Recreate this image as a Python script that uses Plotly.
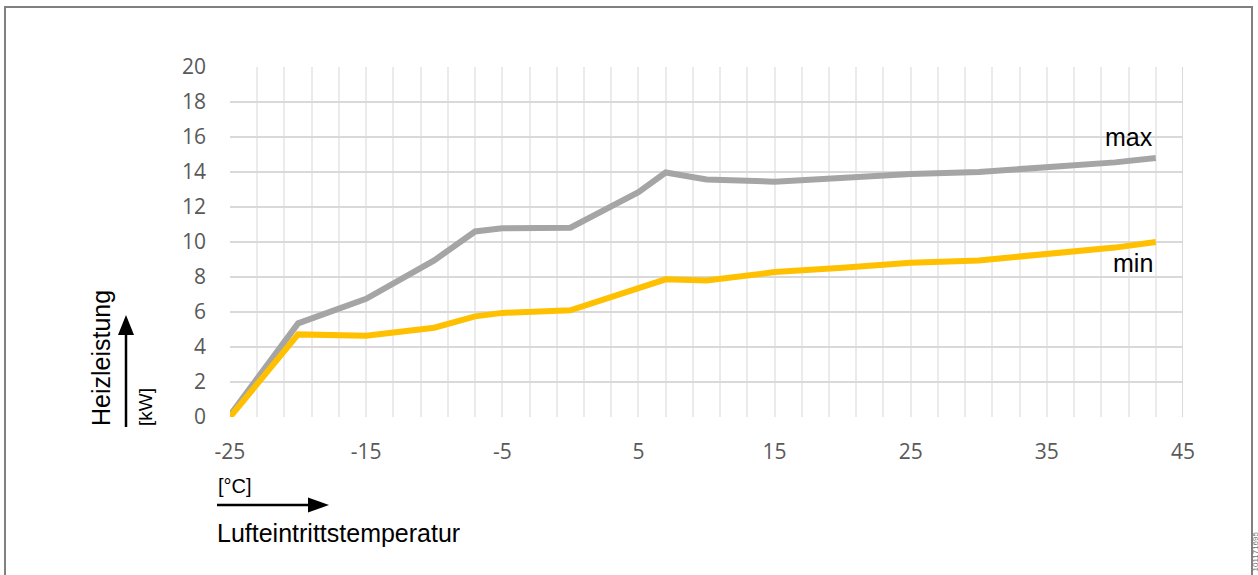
import plotly.graph_objects as go

# ---- data ----
temps = [-25, -20, -15, -10, -7, -5, 0, 5, 7, 10, 15, 20, 25, 30, 35, 40, 43]
p_max = [0.1, 5.35, 6.75, 8.95, 10.6, 10.78, 10.82, 12.85, 13.97, 13.57, 13.45, 13.68, 13.88, 14.0, 14.25, 14.55, 14.8]
p_min = [0.0, 4.72, 4.65, 5.1, 5.75, 5.95, 6.1, 7.3, 7.87, 7.8, 8.28, 8.53, 8.82, 8.95, 9.28, 9.68, 10.0]
x_ticks = [-25, -15, -5, 5, 15, 25, 35, 45]
y_ticks = [0, 2, 4, 6, 8, 10, 12, 14, 16, 18, 20]

W, H = 1258, 575
# plot area in page pixels
L, R, T, B = 230, 1183, 67, 417


def px(x):
    return (x - L) / (R - L)


def py(y):
    return (B - y) / (B - T)


FONT = "Liberation Sans, Arial"
TICKFONT = dict(family="Open Sans", size=21, color="#595959")

fig = go.Figure()
fig.add_trace(go.Scatter(x=temps, y=p_max, mode="lines", name="max",
                         line=dict(color="#A5A5A5", width=6), showlegend=False))
fig.add_trace(go.Scatter(x=temps, y=p_min, mode="lines", name="min",
                         line=dict(color="#FFC000", width=6), showlegend=False))

fig.update_layout(
    width=W, height=H,
    margin=dict(l=L, r=W - R, t=T, b=H - B, pad=0),
    paper_bgcolor="white", plot_bgcolor="white",
    font=dict(family=FONT, color="black"),
    xaxis=dict(range=[-25, 45], tickvals=x_ticks, ticktext=[str(v) for v in x_ticks],
               showgrid=True, gridcolor="#EBEBEB", gridwidth=1.5, zeroline=False,
               showline=False, ticks="", ticklabelstandoff=20, tickfont=TICKFONT,
               minor=dict(tick0=-25, dtick=2, showgrid=True, gridcolor="#EBEBEB", gridwidth=1.5)),
    yaxis=dict(range=[0, 20], tickvals=y_ticks, ticktext=[str(v) for v in y_ticks],
               showgrid=True, gridcolor="#D9D9D9", gridwidth=2, zeroline=False,
               showline=False, ticks="", ticklabelstandoff=23, tickfont=TICKFONT),
)

# right border line of the plot area (at 45)
fig.add_shape(type="line", xref="x", yref="y", x0=45, x1=45, y0=0, y1=20,
              line=dict(color="#D9D9D9", width=2), layer="below")

# series labels
fig.add_annotation(x=px(1155), y=py(137), xref="paper", yref="paper", text="max",
                   showarrow=False, xanchor="right", yanchor="middle",
                   font=dict(size=25, family=FONT, color="black"))
fig.add_annotation(x=px(1155), y=py(263), xref="paper", yref="paper", text="min",
                   showarrow=False, xanchor="right", yanchor="middle",
                   font=dict(size=25, family=FONT, color="black"))

# y axis title + unit + arrow
fig.add_annotation(x=px(101), y=py(428), xref="paper", yref="paper", text="Heizleistung",
                   showarrow=False, textangle=-90, xanchor="center", yanchor="bottom",
                   font=dict(size=25, family=FONT, color="black"))
fig.add_annotation(x=px(145), y=py(428), xref="paper", yref="paper", text="[kW]",
                   showarrow=False, textangle=-90, xanchor="center", yanchor="bottom",
                   font=dict(size=19, family=FONT, color="black"))
fig.add_shape(type="line", xref="paper", yref="paper",
              x0=px(126), x1=px(126), y0=py(427), y1=py(332),
              line=dict(color="black", width=2.5))
fig.add_shape(type="path", xref="paper", yref="paper",
              path=f"M {px(118)} {py(335)} L {px(134)} {py(335)} L {px(126)} {py(315)} Z",
              fillcolor="black", line=dict(color="black", width=0))

# x axis unit + arrow + title
fig.add_annotation(x=px(216), y=py(486), xref="paper", yref="paper", text="[°C]",
                   showarrow=False, xanchor="left", yanchor="middle",
                   font=dict(size=20, family=FONT, color="black"))
fig.add_shape(type="line", xref="paper", yref="paper",
              x0=px(217), x1=px(310), y0=py(505), y1=py(505),
              line=dict(color="black", width=2.5))
fig.add_shape(type="path", xref="paper", yref="paper",
              path=f"M {px(308)} {py(497.5)} L {px(308)} {py(512.5)} L {px(329)} {py(505)} Z",
              fillcolor="black", line=dict(color="black", width=0))
fig.add_annotation(x=px(215), y=py(533), xref="paper", yref="paper", text="Lufteintrittstemperatur",
                   showarrow=False, xanchor="left", yanchor="middle",
                   font=dict(size=25, family=FONT, color="black"))

# outer frame
fig.add_shape(type="path", xref="paper", yref="paper",
              path=f"M {px(5)} {py(590)} L {px(5)} {py(7)} L {px(1252)} {py(7)} L {px(1252)} {py(590)}",
              line=dict(color="#808080", width=2))

# tiny rotated reference number at right edge
fig.add_annotation(x=px(1254.5), y=py(574), xref="paper", yref="paper", text="101171695",
                   showarrow=False, textangle=-90, xanchor="center", yanchor="bottom",
                   font=dict(size=8, family=FONT, color="#707070"))

fig.write_html("out.html", config={"displayModeBar": False},
               post_script="document.body.style.margin='0';document.body.style.overflow='hidden';")
